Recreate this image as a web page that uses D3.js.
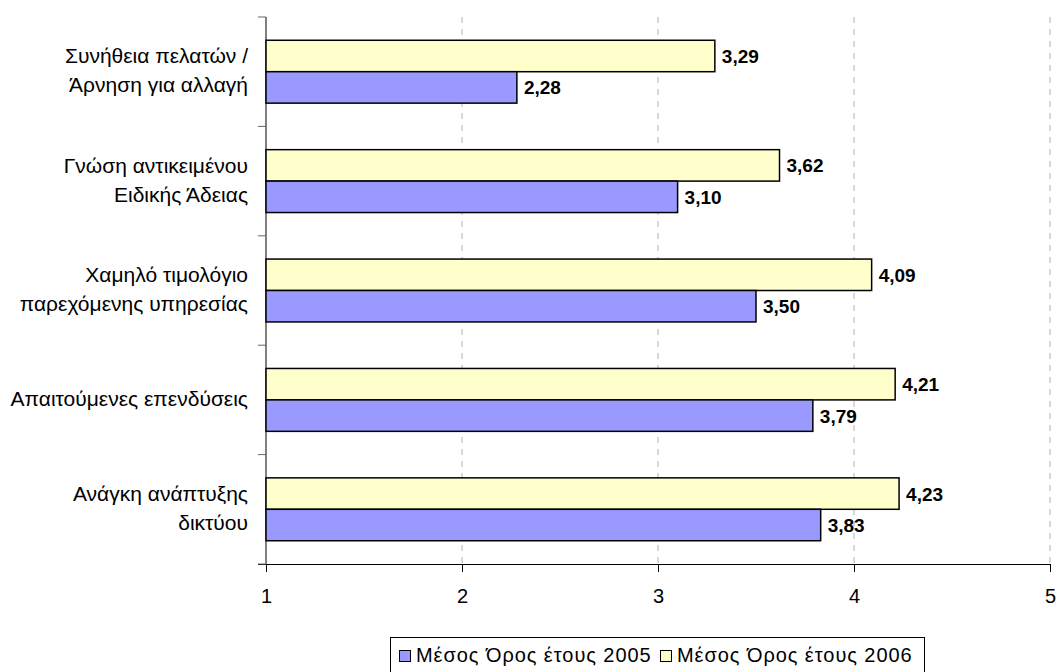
<!DOCTYPE html>
<html>
<head>
<meta charset="utf-8">
<script src="https://cdn.jsdelivr.net/npm/d3@7"></script>
<style>
  html, body { margin: 0; padding: 0; background: #fff; }
  svg { display: block; font-family: "Liberation Sans", Arial, sans-serif; }
</style>
</head>
<body>
<svg id="chart" width="1057" height="672"></svg>
<script>
// Categories, top to bottom (each label split into display lines)
const categories = [
  ["Συνήθεια πελατών /", "Άρνηση για αλλαγή"],
  ["Γνώση αντικειμένου", "Ειδικής Άδειας"],
  ["Χαμηλό τιμολόγιο", "παρεχόμενης υπηρεσίας"],
  ["Απαιτούμενες επενδύσεις"],
  ["Ανάγκη ανάπτυξης", "δικτύου"]
];
const values2005 = [2.28, 3.10, 3.50, 3.79, 3.83];
const values2006 = [3.29, 3.62, 4.09, 4.21, 4.23];
const seriesNames = ["Μέσος Όρος έτους 2005", "Μέσος Όρος έτους 2006"];
const xTicks = [1, 2, 3, 4, 5];

const colors = { s2005: "#9999FF", s2006: "#FFFFCC" };

const svg = d3.select("#chart");
const plotLeft = 266, plotRight = 1050, plotTop = 17, plotBottom = 564;

const x = d3.scaleLinear().domain([1, 5]).range([plotLeft, plotRight]);
const y = d3.scaleBand().domain(d3.range(categories.length)).range([plotTop, plotBottom]);
const inner = d3.scaleBand().domain(["2006", "2005"]).range([0, y.bandwidth()]).paddingOuter(0.74);
const fmt = v => d3.format(".2f")(v).replace(".", ",");

// vertical dashed gridlines
svg.append("g").selectAll("line").data(xTicks.slice(1)).join("line")
  .attr("x1", d => x(d)).attr("x2", d => x(d))
  .attr("y1", plotTop).attr("y2", plotBottom)
  .attr("stroke", "#b0b0b0").attr("stroke-width", 1)
  .attr("stroke-dasharray", "6,6");

// x axis
const xAxis = svg.append("g").attr("transform", `translate(0,${plotBottom})`)
  .call(d3.axisBottom(x).tickValues(xTicks).tickSize(8).tickPadding(17).tickFormat(d3.format("d")));
xAxis.attr("font-size", null).attr("font-family", null);
xAxis.select(".domain").attr("stroke", "#000").attr("d", `M${plotLeft - 8},0.5H${plotRight}`);
xAxis.selectAll(".tick line").attr("stroke", "#000");
xAxis.selectAll(".tick text").attr("font-size", 20).attr("fill", "#000");

// y axis with category dividers
const yAxis = svg.append("g").attr("transform", `translate(${plotLeft},0)`);
yAxis.append("line").attr("x1", 0).attr("x2", 0).attr("y1", plotTop).attr("y2", plotBottom).attr("stroke", "#000");
const divs = d3.range(categories.length + 1).map(i => i < categories.length ? y(i) : plotBottom);
yAxis.selectAll("line.tk").data(divs).join("line").attr("class", "tk")
  .attr("x1", -8).attr("x2", 0).attr("y1", d => d).attr("y2", d => d)
  .attr("stroke", "#666");

// category labels
const lineH = 29;
const catG = svg.append("g");
categories.forEach((lines, i) => {
  const cy = y(i) + y.bandwidth() / 2;
  const t = catG.append("text").attr("text-anchor", "end").attr("font-size", 21).attr("fill", "#000");
  lines.forEach((ln, j) => {
    t.append("tspan").attr("x", 248)
      .attr("y", cy + (j - (lines.length - 1) / 2) * lineH + 6)
      .text(ln);
  });
});

// bars
const series = [
  { key: "2006", vals: values2006, color: colors.s2006 },
  { key: "2005", vals: values2005, color: colors.s2005 }
];
series.forEach(s => {
  const g = svg.append("g");
  g.selectAll("rect").data(s.vals).join("rect")
    .attr("x", x(1))
    .attr("y", (d, i) => y(i) + inner(s.key))
    .attr("width", d => x(d) - x(1))
    .attr("height", inner.bandwidth())
    .attr("fill", s.color).attr("stroke", "#000").attr("stroke-width", 1.5);
  g.selectAll("text").data(s.vals).join("text")
    .attr("x", d => x(d) + 7)
    .attr("y", (d, i) => y(i) + inner(s.key) + inner.bandwidth() / 2 + 7)
    .attr("font-size", 19).attr("font-weight", "bold").attr("fill", "#000")
    .text(d => fmt(d));
});

// legend
const lg = svg.append("g");
lg.append("rect").attr("x", 390.5).attr("y", 637.5).attr("width", 534).attr("height", 50)
  .attr("fill", "#fff").attr("stroke", "#000");
const items = [
  { name: seriesNames[0], color: colors.s2005, sx: 399, tx: 416 },
  { name: seriesNames[1], color: colors.s2006, sx: 660, tx: 677 }
];
items.forEach(it => {
  lg.append("rect").attr("x", it.sx + 0.5).attr("y", 650.5).attr("width", 11).attr("height", 11)
    .attr("fill", it.color).attr("stroke", "#000");
  lg.append("text").attr("x", it.tx).attr("y", 662).attr("font-size", 20)
    .attr("letter-spacing", 0.95).attr("fill", "#000")
    .text(it.name);
});
</script>
</body>
</html>
